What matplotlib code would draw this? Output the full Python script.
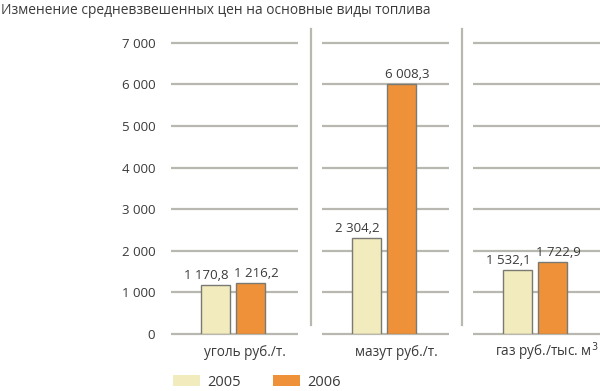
import matplotlib.pyplot as plt
import numpy as np

# данные
categories = ['уголь руб./т.', 'мазут руб./т.', 'газ руб./тыс. м$^3$']
years = ['2005', '2006']
values_2005 = [1170.8, 2304.2, 1532.1]
values_2006 = [1216.2, 6008.3, 1722.9]
yticks = [0, 1000, 2000, 3000, 4000, 5000, 6000, 7000]

colors = ['#f2ebbd', '#ef9139']
edge = '#7a7a74'
grid_c = '#b8b8b0'
txt_c = '#3a3a3a'
plt.rcParams['font.family'] = ['Open Sans', 'DejaVu Sans']


def fmt(v, dec=False):
    if dec:
        s = f'{v:,.1f}'
    else:
        s = f'{v:,.0f}'
    return s.replace(',', ' ').replace('.', ',')


fig = plt.figure(figsize=(6.0, 3.91), dpi=100)
ax = fig.add_axes([172 / 600, 57 / 391, 428 / 600, 291.3 / 391])

x = np.arange(len(categories))
w = 0.19
off = 0.115

# сетка по панелям
for c in x:
    for t in yticks:
        ax.plot([c - 0.41, c + 0.43], [t, t], color=grid_c, lw=1.6, zorder=1,
                solid_capstyle='butt', clip_on=False)
    if c < len(categories) - 1:
        ax.plot([c + 0.515, c + 0.515], [215, 7330], color=grid_c, lw=1.6,
                zorder=1, clip_on=False)

b1 = ax.bar(x - off, values_2005, w, color=colors[0], edgecolor=edge, lw=1.0,
            zorder=3, label=years[0])
b2 = ax.bar(x + off, values_2006, w, color=colors[1], edgecolor=edge, lw=1.0,
            zorder=3, label=years[1])

for i in range(len(categories)):
    ax.annotate(fmt(values_2005[i], True), (x[i] - off, values_2005[i]),
                xytext=(-9, 3), textcoords='offset pixels', ha='center',
                va='bottom', fontsize=9.5, color=txt_c)
    ax.annotate(fmt(values_2006[i], True), (x[i] + off, values_2006[i]),
                xytext=(6, 3), textcoords='offset pixels', ha='center',
                va='bottom', fontsize=9.5, color=txt_c)
    ax.annotate(categories[i], (x[i], 0), xytext=(12, -18),
                textcoords='offset pixels', ha='center', va='center',
                fontsize=9.8, color=txt_c)

ax.set_xlim(-0.404, 2.43)
ax.set_ylim(0, 7000)
ax.set_yticks(yticks)
ax.set_yticklabels([fmt(t) for t in yticks], fontsize=9.5, color=txt_c)
ax.set_xticks([])
ax.tick_params(axis='y', length=0, pad=12)
for s in ax.spines.values():
    s.set_visible(False)

fig.text(1 / 600, 1 - 10 / 391, 'Изменение средневзвешенных цен на основные виды топлива',
         fontsize=9.9, color=txt_c, va='center', ha='left')

ax.legend(handles=[b1, b2], loc='center left', ncol=2, frameon=False,
          bbox_to_anchor=(160 / 600, 9 / 391), bbox_transform=fig.transFigure,
          fontsize=10.5, handlelength=1.85, handleheight=0.7,
          handletextpad=0.5, columnspacing=2.2, labelcolor=txt_c)
for h in ax.get_legend().legend_handles:
    h.set_edgecolor('none')

fig.savefig('out.png', dpi=100)
